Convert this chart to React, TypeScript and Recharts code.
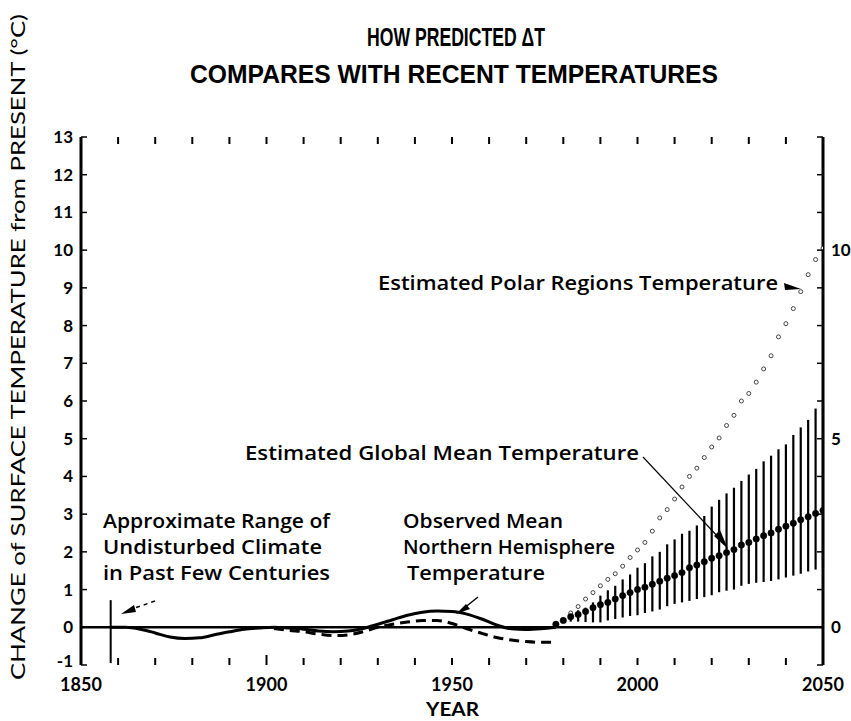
import React from 'react';
import { ComposedChart, Line, XAxis, YAxis, ReferenceLine, ErrorBar } from 'recharts';

// Observed mean Northern Hemisphere temperature (solid)
const observedYears = [1858, 1862, 1866, 1870, 1874, 1878, 1882, 1886, 1890, 1894, 1898, 1902, 1906, 1910, 1914, 1918, 1922, 1926, 1930, 1934, 1938, 1942, 1946, 1950, 1954, 1958, 1962, 1966, 1970, 1974, 1978];
const observedTemp = [0, 0, -0.05, -0.15, -0.26, -0.3, -0.28, -0.2, -0.12, -0.05, -0.02, 0, -0.02, -0.05, -0.1, -0.12, -0.1, -0.03, 0.08, 0.2, 0.32, 0.4, 0.43, 0.42, 0.35, 0.22, 0.06, -0.04, -0.06, -0.04, 0];

// Second observed record (dashed)
const dashedYears = [1902, 1906, 1910, 1914, 1918, 1922, 1926, 1930, 1934, 1938, 1942, 1946, 1950, 1954, 1958, 1962, 1966, 1970, 1974, 1977];
const dashedTemp = [-0.03, -0.08, -0.12, -0.18, -0.22, -0.2, -0.12, 0.0, 0.08, 0.14, 0.18, 0.18, 0.1, -0.04, -0.16, -0.27, -0.34, -0.38, -0.4, -0.4];

// Projections
const projYears = [1978, 1980, 1982, 1984, 1986, 1988, 1990, 1992, 1994, 1996, 1998, 2000, 2002, 2004, 2006, 2008, 2010, 2012, 2014, 2016, 2018, 2020, 2022, 2024, 2026, 2028, 2030, 2032, 2034, 2036, 2038, 2040, 2042, 2044, 2046, 2048, 2050];
const globalMean = [0.08, 0.18, 0.28, 0.34, 0.42, 0.52, 0.6, 0.66, 0.75, 0.84, 0.92, 1.0, 1.06, 1.14, 1.22, 1.3, 1.37, 1.45, 1.58, 1.65, 1.74, 1.83, 1.9, 1.98, 2.06, 2.18, 2.25, 2.34, 2.43, 2.5, 2.6, 2.68, 2.76, 2.85, 2.93, 3.02, 3.1];
const globalHigh = [0.1, 0.22, 0.35, 0.45, 0.52, 0.66, 0.84, 0.98, 1.1, 1.27, 1.4, 1.58, 1.7, 1.88, 2.0, 2.2, 2.33, 2.48, 2.56, 2.7, 2.95, 3.2, 3.38, 3.55, 3.7, 3.88, 4.05, 4.2, 4.4, 4.55, 4.72, 4.85, 5.1, 5.3, 5.5, 5.8, 5.95];
const globalLow = [0.03, 0.12, 0.15, 0.15, 0.14, 0.13, 0.13, 0.18, 0.22, 0.26, 0.3, 0.32, 0.38, 0.42, 0.47, 0.56, 0.62, 0.66, 0.7, 0.75, 0.8, 0.85, 0.93, 0.97, 1.0, 1.1, 1.15, 1.18, 1.2, 1.23, 1.27, 1.32, 1.37, 1.42, 1.48, 1.53, 1.58];
const polarTemp = [0.05, 0.2, 0.38, 0.55, 0.75, 0.92, 1.1, 1.27, 1.42, 1.62, 1.85, 2.05, 2.25, 2.55, 2.9, 3.12, 3.4, 3.72, 4.0, 4.22, 4.5, 4.78, 5.02, 5.35, 5.62, 6.0, 6.2, 6.5, 6.85, 7.2, 7.7, 8.05, 8.45, 8.9, 9.35, 9.75, 10.05];

// Undisturbed climate range marker
const rangeYear = 1858;
const rangeTop = 0.72;
const rangeBottom = -0.95;

// Ticks
const xTicks = [1850, 1860, 1870, 1880, 1890, 1900, 1910, 1920, 1930, 1940, 1950, 1960, 1970, 1980, 1990, 2000, 2010, 2020, 2030, 2040, 2050];
const xLabelYears = [1850, 1900, 1950, 2000, 2050];
const yTicks = [-1, 0, 1, 2, 3, 4, 5, 6, 7, 8, 9, 10, 11, 12, 13];
const rightLabels = [0, 5, 10];

const observedData = observedYears.map((year, i) => ({ year, temp: observedTemp[i] }));
const dashedData = dashedYears.map((year, i) => ({ year, temp: dashedTemp[i] }));
const globalData = projYears.map((year, i) => ({
  year,
  mean: globalMean[i],
  err: [globalMean[i] - globalLow[i], globalHigh[i] - globalMean[i]],
}));
const polarData = projYears.map((year, i) => ({ year, temp: polarTemp[i] }));

const FONT = 'Lato, "DejaVu Sans", sans-serif';
const ANNO_FONT = '"Open Sans", "DejaVu Sans", sans-serif';

const BottomTick = (props: any) => {
  const { x, y, payload } = props;
  const v = payload.value;
  const inner = v === 1850 || v === 2050;
  return (
    <g>
      {!inner && <line x1={x} y1={y} x2={x} y2={y - (v === 1900 ? 10 : 7)} stroke="#000" strokeWidth={2} />}
      {xLabelYears.includes(v) && (
        <text x={x} y={y + 26} textAnchor="middle" fontFamily={FONT} fontSize={18} fontWeight={700} fill="#000">
          {v}
        </text>
      )}
    </g>
  );
};

const TopTick = (props: any) => {
  const { x, y } = props;
  return <line x1={x} y1={y} x2={x} y2={y + 7} stroke="#000" strokeWidth={2} />;
};

const LeftTick = (props: any) => {
  const { x, y, payload } = props;
  const v = payload.value;
  return (
    <g>
      <line x1={x} y1={y} x2={x + 6} y2={y} stroke="#000" strokeWidth={1.5} />
      <text x={x - 8} y={v === -1 ? y - 4 : y} dy="0.35em" textAnchor="end" fontFamily={FONT} fontSize={17} fontWeight={700} fill="#000">
        {v}
      </text>
    </g>
  );
};

const RightTick = (props: any) => {
  const { x, y, payload } = props;
  const v = payload.value;
  return (
    <g>
      <line x1={x} y1={y} x2={x - 6} y2={y} stroke="#000" strokeWidth={1.5} />
      {rightLabels.includes(v) && (
        <text x={x + 8} y={y} dy="0.35em" textAnchor="start" fontFamily={FONT} fontSize={17} fontWeight={700} fill="#000">
          {v}
        </text>
      )}
    </g>
  );
};

export default function App() {
  return (
    <div style={{ position: 'absolute', left: 0, top: 0, width: 851, height: 721, background: '#fff' }}>
      <ComposedChart width={851} height={721} margin={{ top: 136, right: 0, bottom: 0, left: 0 }}>
        <XAxis
          xAxisId="bottom"
          type="number"
          dataKey="year"
          domain={[1850, 2050]}
          allowDataOverflow
          ticks={xTicks}
          interval={0}
          axisLine={false}
          tickLine={false}
          tickSize={0}
          tickMargin={0}
          height={56}
          tick={<BottomTick />}
        />
        <XAxis
          xAxisId="top"
          orientation="top"
          type="number"
          dataKey="year"
          domain={[1850, 2050]}
          allowDataOverflow
          ticks={xTicks.slice(1, -1)}
          interval={0}
          axisLine={false}
          tickLine={false}
          tickSize={0}
          tickMargin={0}
          height={1}
          tick={<TopTick />}
        />
        <YAxis
          yAxisId="left"
          type="number"
          domain={[-1, 13]}
          allowDataOverflow
          ticks={yTicks}
          interval={0}
          width={81}
          axisLine={{ stroke: '#000', strokeWidth: 3 }}
          tickLine={false}
          tickSize={0}
          tickMargin={0}
          tick={<LeftTick />}
        />
        <YAxis
          yAxisId="right"
          orientation="right"
          type="number"
          domain={[-1, 13]}
          allowDataOverflow
          ticks={yTicks}
          interval={0}
          width={28}
          axisLine={{ stroke: '#000', strokeWidth: 3 }}
          tickLine={false}
          tickSize={0}
          tickMargin={0}
          tick={<RightTick />}
        />
        <ReferenceLine xAxisId="bottom" yAxisId="left" y={0} stroke="#000" strokeWidth={2.5} />
        <ReferenceLine
          xAxisId="bottom"
          yAxisId="left"
          segment={[{ x: rangeYear, y: rangeTop }, { x: rangeYear, y: rangeBottom }]}
          stroke="#000"
          strokeWidth={2}
        />
        <Line
          xAxisId="bottom"
          yAxisId="left"
          data={observedData}
          dataKey="temp"
          type="monotone"
          stroke="#000"
          strokeWidth={3}
          dot={false}
          isAnimationActive={false}
        />
        <Line
          xAxisId="bottom"
          yAxisId="left"
          data={dashedData}
          dataKey="temp"
          type="monotone"
          stroke="#000"
          strokeWidth={3}
          strokeDasharray="10 6"
          dot={false}
          isAnimationActive={false}
        />
        <Line
          xAxisId="bottom"
          yAxisId="left"
          data={polarData}
          dataKey="temp"
          stroke="none"
          dot={{ r: 2, fill: '#fff', stroke: '#444', strokeWidth: 1 }}
          isAnimationActive={false}
        />
        <Line
          xAxisId="bottom"
          yAxisId="left"
          data={globalData}
          dataKey="mean"
          stroke="none"
          dot={{ r: 3.2, fill: '#000', stroke: '#000', strokeWidth: 0.5 }}
          isAnimationActive={false}
        >
          <ErrorBar dataKey="err" direction="y" width={0} stroke="#000" strokeWidth={2.2} isAnimationActive={false} />
        </Line>
      </ComposedChart>
      <svg
        width={851}
        height={721}
        style={{ position: 'absolute', left: 0, top: 0, pointerEvents: 'none' }}
      >
        <g fontFamily='"Liberation Sans", Arial, sans-serif' fontWeight={700} fill="#000">
          <text x={367} y={46} fontSize={26} textLength={178} lengthAdjust="spacingAndGlyphs">HOW PREDICTED ΔT</text>
          <text x={190} y={83} fontSize={25} textLength={528} lengthAdjust="spacingAndGlyphs">COMPARES WITH RECENT TEMPERATURES</text>
        </g>
        <text
          transform="translate(25,347) rotate(-90)"
          textAnchor="middle"
          fontFamily={FONT}
          fontSize={20}
          textLength={666}
          lengthAdjust="spacingAndGlyphs"
          fill="#000"
        >
          CHANGE of SURFACE TEMPERATURE from PRESENT (°C)
        </text>
        <text x={426} y={716} fontFamily={FONT} fontSize={18} fontWeight={700} textLength={53} lengthAdjust="spacingAndGlyphs">YEAR</text>
        <g fontFamily={ANNO_FONT} fontSize={19} fontWeight={600} fill="#000">
          <text x={103} y={528} textLength={227} lengthAdjust="spacingAndGlyphs">Approximate Range of</text>
          <text x={103} y={554} textLength={219} lengthAdjust="spacingAndGlyphs">Undisturbed Climate</text>
          <text x={103} y={580} textLength={227} lengthAdjust="spacingAndGlyphs">in Past Few Centuries</text>
          <text x={403} y={528} textLength={160} lengthAdjust="spacingAndGlyphs">Observed Mean</text>
          <text x={403} y={554} textLength={212} lengthAdjust="spacingAndGlyphs">Northern Hemisphere</text>
          <text x={407} y={580} textLength={138} lengthAdjust="spacingAndGlyphs">Temperature</text>
          <text x={378} y={290} textLength={400} lengthAdjust="spacingAndGlyphs">Estimated Polar Regions Temperature</text>
          <text x={245} y={460} textLength={394} lengthAdjust="spacingAndGlyphs">Estimated Global Mean Temperature</text>
        </g>
        {/* Polar arrow */}
        <path d="M784,283 L801,289 L785,290 Z" fill="#000" />
        {/* Global leader */}
        <line x1={643} y1={457} x2={720} y2={539} stroke="#000" strokeWidth={1.2} />
        <path d="M714,536 L720,530 L728,549 Z" fill="#000" />
        {/* Observed leader */}
        <line x1={478} y1={597} x2={463} y2={609} stroke="#000" strokeWidth={1.5} />
        <path d="M466,604 L470,609 L456,614 Z" fill="#000" />
        {/* Range arrow */}
        <line x1={155} y1={601} x2={132} y2={609} stroke="#000" strokeWidth={1.5} strokeDasharray="4 4" />
        <path d="M134,605 L136,612 L121,614 Z" fill="#000" />
      </svg>
    </div>
  );
}
